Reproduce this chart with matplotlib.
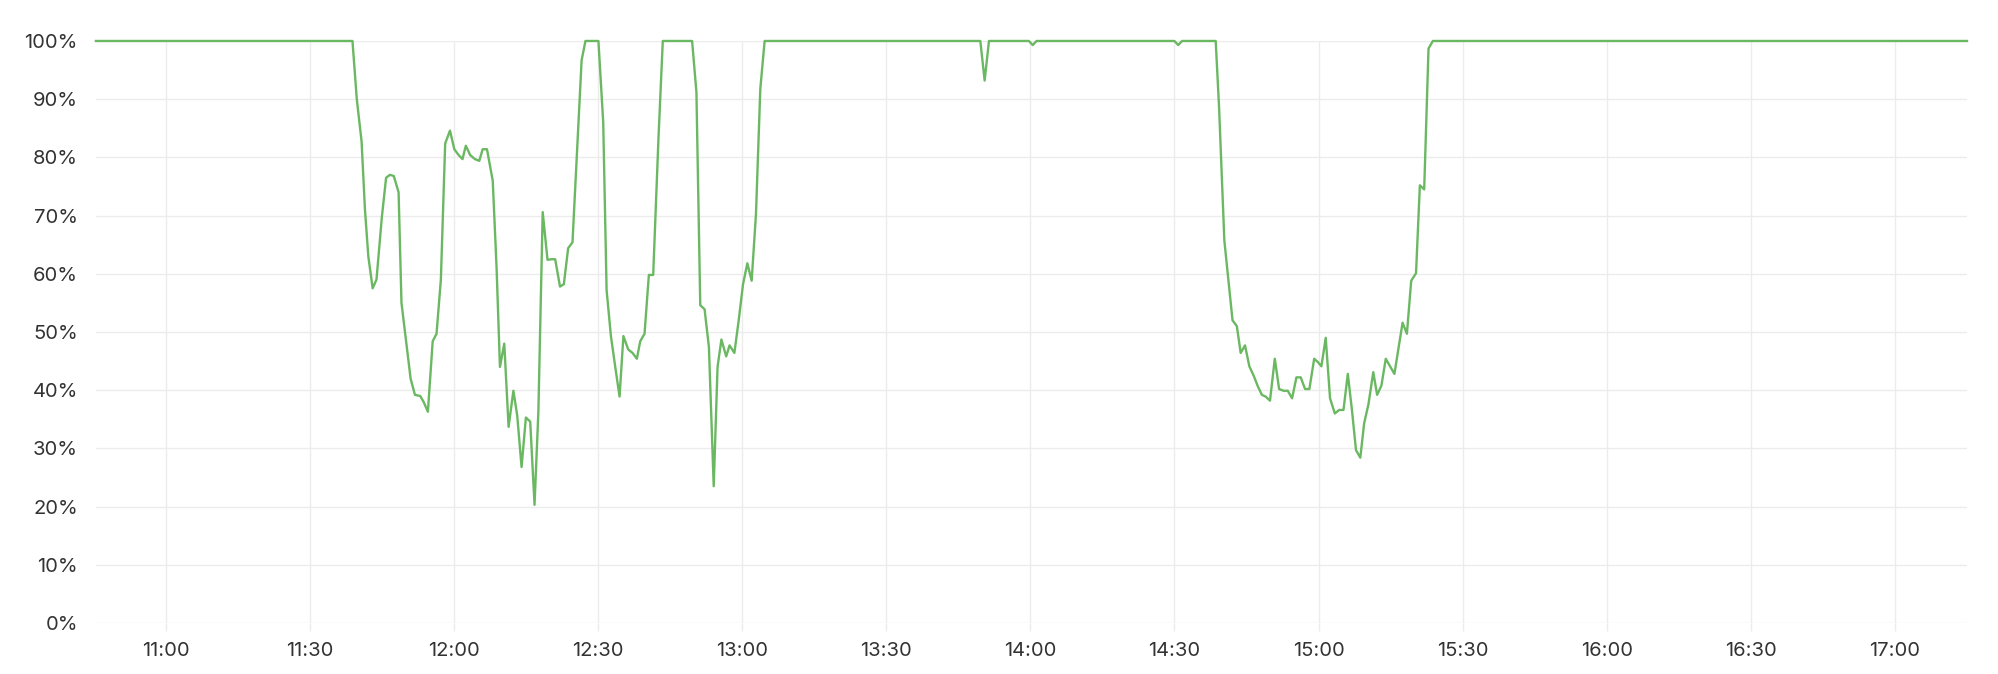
import pandas as pd
import matplotlib
matplotlib.use('Agg')
import matplotlib.pyplot as plt
import matplotlib.dates as mdates
from matplotlib.ticker import FuncFormatter

# minutes after 11:00 and value in percent
minutes = [
    -14.5, 38.9, 39.8, 40.8, 41.5, 42.2, 43.1, 43.9, 45.0, 45.9, 46.7, 47.5, 48.5,
    49.1, 50.2, 51.0, 51.9, 53.0, 53.7, 54.6, 55.6, 56.4, 57.3, 58.2, 59.2, 60.1,
    61.0, 61.8, 62.5, 63.4, 64.4, 65.3, 66.0, 66.9, 68.1, 68.9, 69.6, 70.5, 71.4,
    72.4, 73.2, 74.1, 75.0, 75.9, 76.8, 77.6, 78.5, 79.5, 80.4, 81.1, 82.1, 82.9,
    83.8, 84.7, 85.7, 86.6, 87.4, 90.1, 91.1, 91.8, 92.7, 93.6, 94.5, 95.3, 96.3,
    97.2, 98.1, 98.8, 99.7, 100.6, 101.5, 102.6, 103.5, 109.6, 110.5, 111.3, 112.2,
    113.1, 114.1, 114.9, 115.7, 116.7, 117.4, 118.4, 119.3, 120.2, 121.1, 122.0,
    122.9, 123.8, 124.7, 169.6, 170.5, 171.4, 179.7, 180.5, 181.3, 210.0, 210.8,
    211.6, 218.6, 219.3, 220.4, 221.2, 222.1, 223.0, 223.8, 224.7, 225.6, 226.5,
    227.3, 228.2, 229.0, 229.9, 230.9, 231.8, 232.7, 233.6, 234.5, 235.4, 236.3,
    237.2, 238.1, 239.1, 239.9, 240.6, 241.5, 242.4, 243.4, 244.3, 245.2, 246.1,
    247.0, 247.8, 248.7, 249.5, 250.4, 251.4, 252.2, 253.1, 254.0, 254.9, 255.8,
    256.7, 257.5, 258.4, 259.3, 260.3, 261.1, 262.0, 262.9, 263.8, 375.0,
]
values = [
    100, 100, 90, 82.7, 71, 63, 57.5, 59, 69.6, 76.5, 77, 76.8, 74,
    55, 47.4, 42, 39.2, 39, 38, 36.3, 48.4, 49.7, 59, 82.4, 84.6, 81.4,
    80.4, 79.7, 82, 80.4, 79.7, 79.4, 81.4, 81.4, 76, 61, 44, 48, 33.7,
    39.9, 35.6, 26.8, 35.3, 34.6, 20.3, 36.3, 70.6, 62.4, 62.5, 62.5, 57.8, 58.2,
    64.4, 65.4, 82, 96.7, 100, 100, 86, 57.2, 49.3, 44, 38.9, 49.3, 47,
    46.4, 45.4, 48.4, 49.7, 59.8, 59.8, 83.3, 100, 100, 91.2, 54.6, 53.9,
    47.4, 23.5, 44, 48.7, 45.8, 47.7, 46.4, 52, 58.2, 61.8, 58.8,
    70.3, 91.8, 100, 100, 93.2, 100, 100, 99.3, 100, 100, 99.3,
    100, 100, 88.6, 65.7, 59.2, 52, 51, 46.4, 47.7, 44.1, 42.5,
    40.8, 39.2, 38.9, 38.2, 45.4, 40.2, 39.9, 39.9, 38.6, 42.2, 42.2,
    40.2, 40.2, 45.4, 44.8, 44.1, 49, 38.6, 36, 36.6, 36.6, 42.8,
    36.3, 29.7, 28.4, 34.3, 37.6, 43.1, 39.2, 40.8, 45.4, 44.1, 42.8,
    47.4, 51.6, 49.7, 58.8, 60.1, 75.2, 74.5, 98.7, 100, 100,
]
y_ticks = [0, 10, 20, 30, 40, 50, 60, 70, 80, 90, 100]

start = pd.Timestamp('2024-01-01 11:00')
times = start + pd.to_timedelta(minutes, unit='m')

plt.rcParams['font.family'] = ['Inter', 'DejaVu Sans']

fig = plt.figure(figsize=(19.99, 6.74), dpi=100)
ax = fig.add_axes([0.048, 0.0757, 0.936, 0.8635])

grid_color = '#ececec'
ax.plot(times, values, color='#6bb862', linewidth=1.7, clip_on=False, zorder=3)

ax.set_xlim(times[0], times[-1])
ax.set_ylim(0, 100)
ax.set_yticks(y_ticks)
ax.yaxis.set_major_formatter(FuncFormatter(lambda v, p: f'{v:.0f}%'))
ax.xaxis.set_major_locator(mdates.MinuteLocator(byminute=[0, 30]))
ax.xaxis.set_major_formatter(mdates.DateFormatter('%H:%M'))

ax.grid(True, color=grid_color, linewidth=1)
ax.set_axisbelow(True)
for s in ax.spines.values():
    s.set_visible(False)

ax.tick_params(axis='y', length=0, pad=13, labelsize=14.5, labelcolor='#333333')
ax.tick_params(axis='x', length=6, width=1, color=grid_color, pad=8,
               labelsize=14.5, labelcolor='#333333')

fig.savefig('out.png', dpi=100, facecolor='white')
